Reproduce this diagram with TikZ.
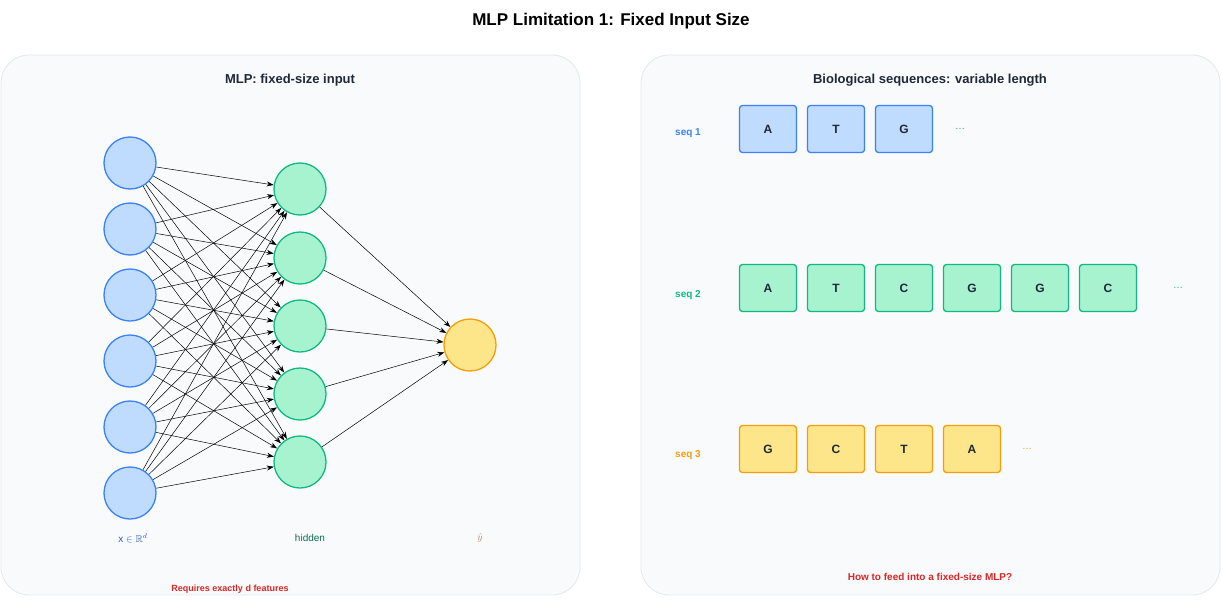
\documentclass[tikz,border=0pt]{standalone}
\usepackage{amssymb}
\usepackage{fontspec}
\setmainfont{Liberation Sans}
\usetikzlibrary{arrows.meta}
\definecolor{bF}{HTML}{BFDBFE}\definecolor{bS}{HTML}{3B82F6}
\definecolor{gF}{HTML}{A7F3D0}\definecolor{gS}{HTML}{10B981}
\definecolor{yF}{HTML}{FDE68A}\definecolor{yS}{HTML}{F59E0B}
\definecolor{pF}{HTML}{F8FAFC}\definecolor{pS}{HTML}{E2E8F0}
\definecolor{txt}{HTML}{1F2937}\definecolor{redt}{HTML}{DC2626}
\begin{document}
\begin{tikzpicture}[x=1pt,y=-1pt,
 panel/.style={draw=pS,fill=pF,rounded corners=28pt,line width=0.8pt},
 neu/.style={circle,minimum size=52pt,inner sep=0pt,line width=1.3pt},
 inN/.style={neu,fill=bF,draw=bS}, hidN/.style={neu,fill=gF,draw=gS}, outN/.style={neu,fill=yF,draw=yS},
 box/.style={rounded corners=3pt,minimum width=57pt,minimum height=47pt,inner sep=0pt,line width=1.3pt,font=\fontsize{12}{14}\selectfont\bfseries,text=txt},
 bB/.style={box,fill=bF,draw=bS}, gB/.style={box,fill=gF,draw=gS}, yB/.style={box,fill=yF,draw=yS},
 edge/.style={-{Stealth[length=7pt,width=5pt]},line width=0.5pt,black},
 lab/.style={font=\fontsize{10}{12}\selectfont\bfseries}]
\useasboundingbox (0,0) rectangle (1222,602);
\fill[white] (0,0) rectangle (1222,602);
\node[font=\fontsize{17}{20}\selectfont\bfseries] (title) at (611,21) {MLP Limitation 1: Fixed Input Size};
\draw[panel] (1,55) rectangle (580,595);
\draw[panel] (641,55) rectangle (1220,595);
\node[font=\fontsize{13}{15}\selectfont\bfseries,text=txt] (t1) at (290,80) {MLP: fixed-size input};
\node[font=\fontsize{13}{15}\selectfont\bfseries,text=txt] (t2) at (930,80) {Biological sequences: variable length};
\foreach \i/\y in {1/163,2/229,3/295,4/361,5/427,6/493} \node[inN] (i\i) at (130,\y) {};
\foreach \j/\y in {1/189,2/258,3/326,4/394,5/462} \node[hidN] (h\j) at (300,\y) {};
\node[outN] (o) at (470,345) {};
\foreach \i in {1,...,6}\foreach \j in {1,...,5} \draw[edge] (i\i) -- (h\j);
\foreach \j in {1,...,5} \draw[edge] (h\j) -- (o);
\node[font=\fontsize{10}{12}\selectfont,text=bS!70!black] (lx) at (133,538) {x $\in\mathbb{R}^{d}$};
\node[font=\fontsize{10}{12}\selectfont,text=gS!60!black] (lh) at (310,538) {hidden};
\node[font=\fontsize{10}{12}\selectfont,text=brown] (ly) at (480,538) {$\hat{y}$};
\node[font=\fontsize{9}{11}\selectfont\bfseries,text=redt] (req) at (230,589) {Requires exactly d features};
\node[lab,text=bS] (s1) at (688,133) {seq 1};
\node[lab,text=gS] (s2) at (688,295) {seq 2};
\node[lab,text=yS] (s3) at (688,455) {seq 3};
\foreach \k/\c/\x in {1/A/768,2/T/836,3/G/904} \node[bB] (a\k) at (\x,129) {\c};
\node[text=bS] (d1) at (960,129) {\dots};
\foreach \k/\c/\x in {1/A/768,2/T/836,3/C/904,4/G/972,5/G/1040,6/C/1108} \node[gB] (b\k) at (\x,288) {\c};
\node[text=gS] (d2) at (1178,288) {\dots};
\foreach \k/\c/\x in {1/G/768,2/C/836,3/T/904,4/A/972} \node[yB] (c\k) at (\x,449) {\c};
\node[text=yS] (d3) at (1027,449) {\dots};
\node[font=\fontsize{10}{12}\selectfont\bfseries,text=redt] (q) at (930,577) {How to feed into a fixed-size MLP?};
\end{tikzpicture}
\end{document}
